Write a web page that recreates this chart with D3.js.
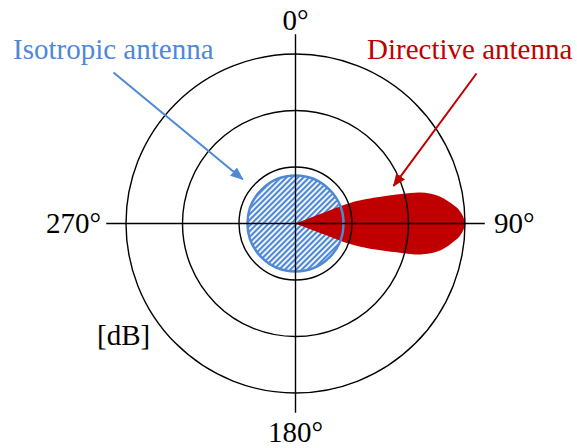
<!DOCTYPE html>
<html>
<head>
<meta charset="utf-8">
<script src="https://cdn.jsdelivr.net/npm/d3@7"></script>
<style>
  html, body { margin: 0; padding: 0; background: #fff; }
  svg { display: block; }
</style>
</head>
<body>
<svg id="chart" width="577" height="448"></svg>
<script>
// Gain rings (arbitrary dB steps) drawn as concentric circles
const ringLevels = [1, 2, 3];
const maxLevel = 3;

// Compass directions and their labels
const directionAngles = [0, 90, 180, 270];
const directionLabels = ["0°", "90°", "180°", "270°"];

// Isotropic antenna: same gain in every direction
const isotropicGain = 0.85;

// Directive antenna main lobe: azimuth (deg) and gain, pointing toward 90°
const lobeAngles = [69, 69, 69.5, 71, 72.5, 74.5, 76.1, 79, 82.3, 85.7, 90, 94.3, 97.7, 101, 103.9, 105.5, 107.5, 109, 110.5, 111, 111];
const lobeGains  = [0, 0.53, 1.06, 1.33, 1.58, 1.95, 2.28, 2.57, 2.76, 2.92, 3.0, 2.92, 2.76, 2.57, 2.28, 1.95, 1.58, 1.33, 1.06, 0.53, 0];

// Annotations: label text and the (azimuth, gain) their arrows point to
const seriesNames = ["Isotropic antenna", "Directive antenna"];
const seriesColors = ["#4f88d6", "#c00000"];
const arrowTargets = [[310, 1.22], [69, 1.86]];

const FONT = "'Liberation Serif', 'Times New Roman', 'DejaVu Serif', serif";

const svg = d3.select("#chart");
const cx = 295.5, cy = 223.5;
const outerR = 169.5;
const axisReach = 3.35;

const r = d3.scaleLinear().domain([0, maxLevel]).range([0, outerR]);
const toRad = d => d * Math.PI / 180;
const polar = (deg, v) => [cx + r(v) * Math.sin(toRad(deg)), cy - r(v) * Math.cos(toRad(deg))];

const defs = svg.append("defs");
const pat = defs.append("pattern")
  .attr("id", "hatch")
  .attr("patternUnits", "userSpaceOnUse")
  .attr("width", 4).attr("height", 4)
  .attr("patternTransform", "rotate(45)");
pat.append("rect").attr("width", 4).attr("height", 4).attr("fill", "#ffffff");
pat.append("rect").attr("width", 2.2).attr("height", 4).attr("fill", seriesColors[0]);

seriesColors.forEach((c, i) => {
  defs.append("marker")
    .attr("id", "arrow" + i)
    .attr("viewBox", "0 0 12 10")
    .attr("refX", 11).attr("refY", 5)
    .attr("markerWidth", 6.5).attr("markerHeight", 5.5)
    .attr("markerUnits", "strokeWidth")
    .attr("orient", "auto")
    .append("path").attr("d", "M0,0 L12,5 L0,10 Z").attr("fill", c);
});

const g = svg.append("g").attr("transform", `translate(${cx},${cy})`);

// Isotropic pattern: hatched disc
g.append("circle").attr("r", r(isotropicGain)).attr("fill", "url(#hatch)");

// Directive pattern lobe
const lobe = d3.lineRadial()
  .angle((d, i) => toRad(lobeAngles[i]))
  .radius(d => r(d))
  .curve(d3.curveCatmullRom.alpha(0.5));
g.append("path")
  .attr("d", lobe(lobeGains) + "Z")
  .attr("fill", seriesColors[1]);

// Isotropic outline on top
g.append("circle").attr("r", r(isotropicGain))
  .attr("fill", "none").attr("stroke", seriesColors[0]).attr("stroke-width", 2.5);

// Rings
g.selectAll("circle.ring").data(ringLevels).join("circle")
  .attr("class", "ring")
  .attr("r", d => r(d))
  .attr("fill", "none").attr("stroke", "#000").attr("stroke-width", 1.4);

// Axis crosshair
g.selectAll("line.axis").data(directionAngles).join("line")
  .attr("class", "axis")
  .attr("x1", 0).attr("y1", 0)
  .attr("x2", d => r(axisReach) * Math.sin(toRad(d)))
  .attr("y2", d => -r(axisReach) * Math.cos(toRad(d)))
  .attr("stroke", "#000").attr("stroke-width", 1.4);

// Direction labels
const labelPos = [
  { x: 0, y: -193.5, anchor: "middle" },
  { x: 198.5, y: 9.5, anchor: "start" },
  { x: 0, y: 218.5, anchor: "middle" },
  { x: -194.5, y: 9.5, anchor: "end" }
];
g.selectAll("text.dir").data(directionLabels).join("text")
  .attr("class", "dir")
  .attr("x", (d, i) => labelPos[i].x)
  .attr("y", (d, i) => labelPos[i].y)
  .attr("text-anchor", (d, i) => labelPos[i].anchor)
  .attr("font-family", FONT)
  .attr("font-size", 29)
  .attr("fill", "#000")
  .text(d => d);

svg.append("text")
  .attr("x", 97).attr("y", 345)
  .attr("font-family", FONT)
  .attr("font-size", 29).attr("fill", "#000")
  .text("[dB]");

// Series annotations with arrows
const nameX = [13, 367];
const arrowStart = [[113.5, 72.5], [476.5, 73.5]];
seriesNames.forEach((name, i) => {
  svg.append("text")
    .attr("x", nameX[i]).attr("y", 59)
    .attr("font-family", FONT)
    .attr("font-size", 29)
    .attr("fill", seriesColors[i])
    .text(name);
  const [tx, ty] = polar(arrowTargets[i][0], arrowTargets[i][1]);
  svg.append("line")
    .attr("x1", arrowStart[i][0]).attr("y1", arrowStart[i][1])
    .attr("x2", tx).attr("y2", ty)
    .attr("stroke", seriesColors[i]).attr("stroke-width", 2)
    .attr("marker-end", `url(#arrow${i})`);
});
</script>
</body>
</html>
